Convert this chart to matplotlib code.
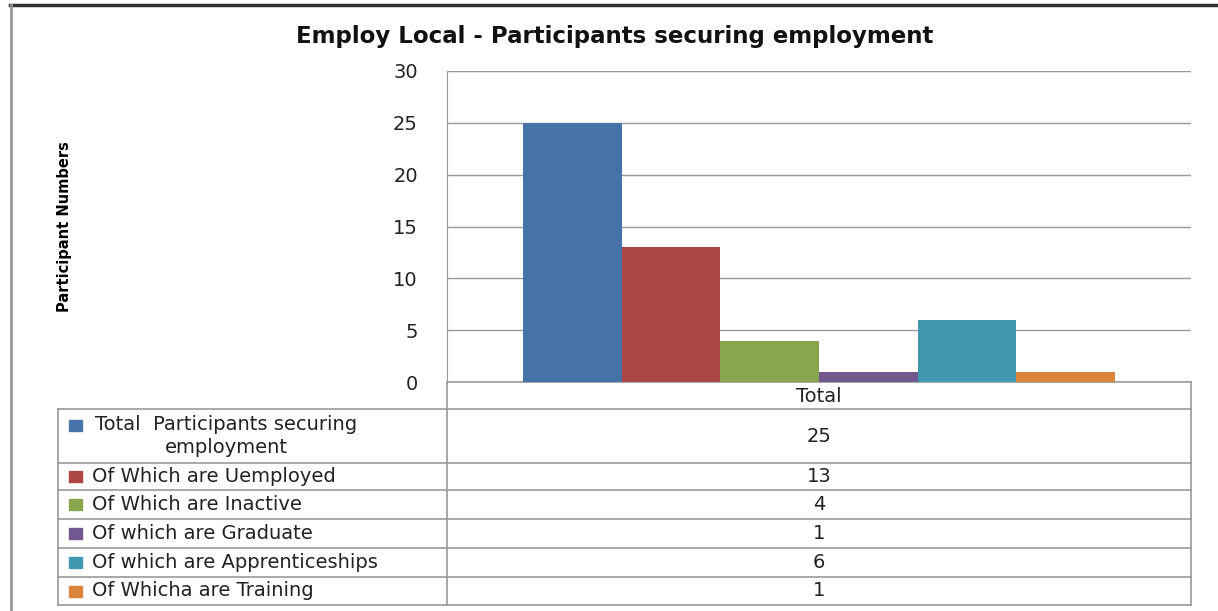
import matplotlib.pyplot as plt
import numpy as np

# data
series = ['Total  Participants securing\nemployment', 'Of Which are Uemployed',
          'Of Which are Inactive', 'Of which are Graduate',
          'Of which are Apprenticeships', 'Of Whicha are Training']
values = [25, 13, 4, 1, 6, 1]
category = 'Total'
colors = ['#4572A7', '#AA4643', '#89A54E', '#71588F', '#4198AF', '#DB843D']
yticks = [0, 5, 10, 15, 20, 25, 30]

W, H = 1218, 611
fs = 14
fig = plt.figure(figsize=(W / 100, H / 100), dpi=100)

# overlay in pixel coords for frame and table
ov = fig.add_axes([0, 0, 1, 1])
ov.set_xlim(0, W)
ov.set_ylim(H, 0)
ov.axis('off')

# chart frame
ov.plot([10, W], [5, 5], color='#333333', lw=2.5)
ov.plot([11, 11], [5, H], color='#999999', lw=2)

# plot area
left, right, top, bottom = 447, 1191, 71, 382
ax = fig.add_axes([left / W, 1 - bottom / H, (right - left) / W, (bottom - top) / H])
ax.set_facecolor('none')
n = len(values)
bw = 0.796 / n
for i, (v, c) in enumerate(zip(values, colors)):
    ax.bar((i - (n - 1) / 2) * bw, v, width=bw, color=c, zorder=3)
ax.set_xlim(-0.5, 0.5)
ax.set_ylim(0, 30)
ax.set_yticks(yticks)
ax.set_yticklabels([str(t) for t in yticks], fontsize=fs, color='#222222')
ax.tick_params(axis='y', length=0, pad=21)
ax.set_xticks([])
ax.grid(axis='y', color='#999999', lw=1, zorder=0)
for s in ['top', 'right', 'bottom']:
    ax.spines[s].set_visible(False)
ax.spines['left'].set_color('#999999')

fig.text(615 / W, 1 - 36 / H, 'Employ Local - Participants securing employment',
         ha='center', va='center', fontsize=16.5, fontweight='bold', color='#111111')
fig.text(65 / W, 1 - 227 / H, 'Participant Numbers', rotation=90,
         ha='center', va='center', fontsize=10.5, fontweight='bold',
         family=['Liberation Sans Narrow', 'DejaVu Sans'])

# data table
gc = '#999999'
rows = [409, 463, 490, 519, 548, 577, 605]
tl, tm, tr = 58, 447, 1191
ov.plot([tm, tr], [382, 382], color=gc, lw=1.2)
for y in rows:
    ov.plot([tl, tr], [y, y], color=gc, lw=1.2)
ov.plot([tl, tl], [rows[0], rows[-1]], color=gc, lw=1.2)
ov.plot([tm, tm], [382, rows[-1]], color=gc, lw=1.2)
ov.plot([tr, tr], [382, rows[-1]], color=gc, lw=1.2)
ov.text((tm + tr) / 2, 396, category, ha='center', va='center', fontsize=fs, color='#222222')
for i, (lab, v, c) in enumerate(zip(series, values, colors)):
    yc = (rows[i] + rows[i + 1]) / 2
    ov.add_patch(plt.Rectangle((69, yc - 5.5 - (11 if i == 0 else 0)), 13, 11, color=c))
    if i == 0:
        ov.text(226, yc, lab, ha='center', va='center', fontsize=fs,
                multialignment='center', color='#222222', linespacing=1.25)
    else:
        ov.text(92, yc, lab, ha='left', va='center', fontsize=fs, color='#222222')
    ov.text((tm + tr) / 2, yc, str(v), ha='center', va='center', fontsize=fs, color='#222222')

fig.savefig('out.png', dpi=100)
